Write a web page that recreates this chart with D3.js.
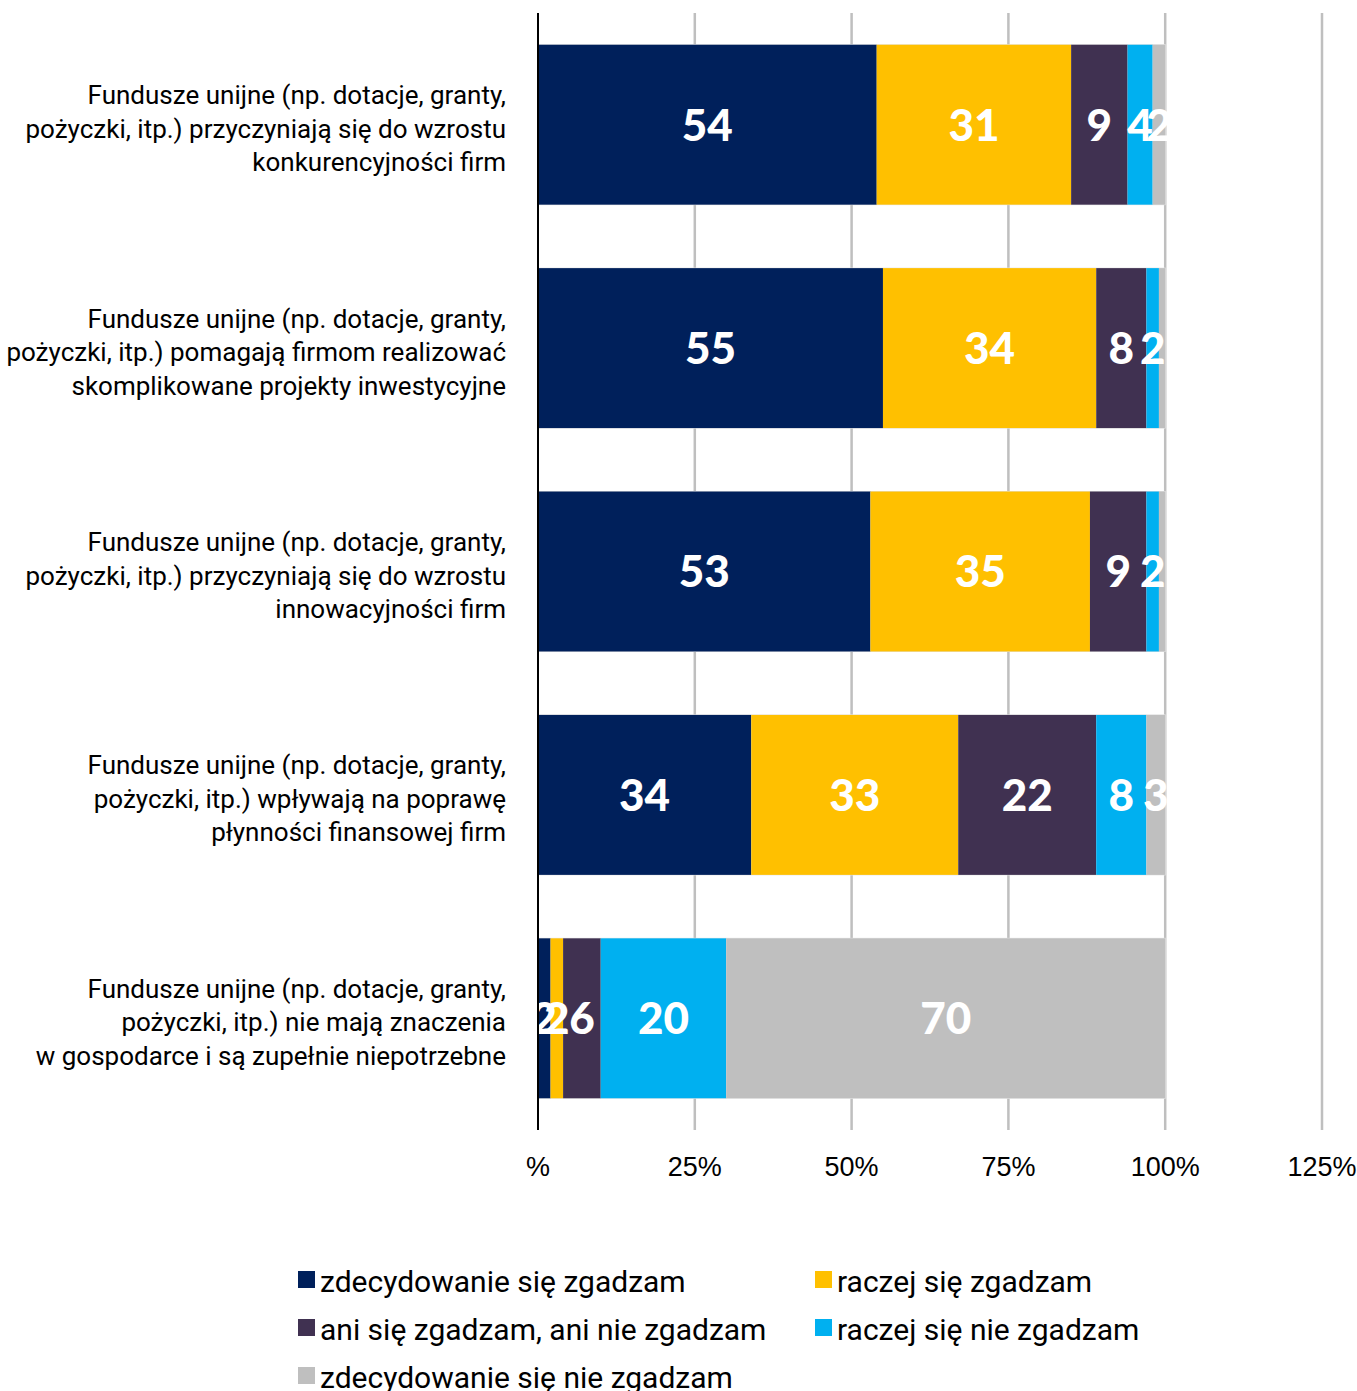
<!DOCTYPE html>
<html>
<head>
<meta charset="utf-8">
<script src="https://cdn.jsdelivr.net/npm/d3@7"></script>
<style>
  body { margin: 0; background: #fff; }
  text { font-family: Roboto, "Noto Sans", sans-serif; }
</style>
</head>
<body>
<script>
var width = 1357,
    height = 1391;

// categories (one line per array item)
var categories = [
  ["Fundusze unijne (np. dotacje, granty,", "pożyczki, itp.) przyczyniają się do wzrostu", "konkurencyjności firm"],
  ["Fundusze unijne (np. dotacje, granty,", "pożyczki, itp.) pomagają firmom realizować", "skomplikowane projekty inwestycyjne"],
  ["Fundusze unijne (np. dotacje, granty,", "pożyczki, itp.) przyczyniają się do wzrostu", "innowacyjności firm"],
  ["Fundusze unijne (np. dotacje, granty,", "pożyczki, itp.) wpływają na poprawę", "płynności finansowej firm"],
  ["Fundusze unijne (np. dotacje, granty,", "pożyczki, itp.) nie mają znaczenia", "w gospodarce i są zupełnie niepotrzebne"]
];

var seriesNames = [
  "zdecydowanie się zgadzam",
  "raczej się zgadzam",
  "ani się zgadzam, ani nie zgadzam",
  "raczej się nie zgadzam",
  "zdecydowanie się nie zgadzam"
];

var zdecydowanieTak = [54, 55, 53, 34, 2];
var raczejTak       = [31, 34, 35, 33, 2];
var aniAni          = [9, 8, 9, 22, 6];
var raczejNie       = [4, 2, 2, 8, 20];
var zdecydowanieNie = [2, 1, 1, 3, 70];

var ticks = [0, 25, 50, 75, 100, 125];
var tickLabels = ["%", "25%", "50%", "75%", "100%", "125%"];

var colors = ["#00205b", "#ffc000", "#403151", "#00b0f0", "#bfbfbf"];

var svg = d3.select("body").append("svg")
    .attr("width", width)
    .attr("height", height);

var x = d3.scaleLinear().domain([0, 125]).range([538, 1322]);
var y = d3.scaleBand().domain(d3.range(categories.length))
    .range([13, 1130]).paddingInner(0.284).paddingOuter(0.142);

// build rows for stacking
var rows = categories.map(function(c, i) {
  return { idx: i, s0: zdecydowanieTak[i], s1: raczejTak[i], s2: aniAni[i], s3: raczejNie[i], s4: zdecydowanieNie[i] };
});
var keys = ["s0", "s1", "s2", "s3", "s4"];
var stacked = d3.stack().keys(keys)(rows);

// grid lines
svg.append("g").selectAll("line")
  .data(ticks.slice(1))
  .enter().append("line")
    .attr("x1", function(d) { return x(d); })
    .attr("x2", function(d) { return x(d); })
    .attr("y1", 13)
    .attr("y2", 1130)
    .attr("stroke", "#bfbfbf")
    .attr("stroke-width", 2.5);

// faint background per bar
svg.append("g").selectAll("rect")
  .data(rows)
  .enter().append("rect")
    .attr("x", x(0))
    .attr("y", function(d) { return y(d.idx); })
    .attr("width", x(100) - x(0))
    .attr("height", y.bandwidth())
    .attr("fill", "#fff")
    .attr("stroke", "#e4e4e4")
    .attr("stroke-width", 1);

// bars
var layer = svg.append("g").selectAll("g")
  .data(stacked)
  .enter().append("g")
    .attr("fill", function(d, i) { return colors[i]; });

layer.selectAll("rect")
  .data(function(d) { return d; })
  .enter().append("rect")
    .attr("x", function(d) { return x(d[0]); })
    .attr("y", function(d) { return y(d.data.idx); })
    .attr("width", function(d) { return x(d[1]) - x(d[0]); })
    .attr("height", y.bandwidth());

// value labels
var labels = svg.append("g");
stacked.forEach(function(s) {
  s.forEach(function(d) {
    var v = d[1] - d[0];
    if (v < 2) return;
    labels.append("text")
      .attr("x", x((d[0] + d[1]) / 2))
      .attr("y", y(d.data.idx) + y.bandwidth() / 2)
      .attr("dy", "0.36em")
      .attr("text-anchor", "middle")
      .attr("fill", "#fff")
      .style("font-family", "Lato, Roboto, sans-serif")
      .style("font-weight", 900)
      .style("font-size", "44px")
      .text(v);
  });
});

// axis line
svg.append("line")
  .attr("x1", x(0)).attr("x2", x(0))
  .attr("y1", 13).attr("y2", 1130)
  .attr("stroke", "#000")
  .attr("stroke-width", 2);

// tick labels
svg.append("g").selectAll("text")
  .data(ticks)
  .enter().append("text")
    .attr("x", function(d) { return x(d); })
    .attr("y", 1176)
    .attr("text-anchor", "middle")
    .attr("fill", "#000")
    .style("font-family", "'Liberation Sans', Arial, sans-serif")
    .style("font-size", "27px")
    .text(function(d, i) { return tickLabels[i]; });

// category labels
var cat = svg.append("g").selectAll("text")
  .data(categories)
  .enter().append("text")
    .attr("text-anchor", "end")
    .attr("fill", "#000")
    .style("font-size", "26px")
    .attr("transform", function(d, i) {
      return "translate(506," + (y(i) + y.bandwidth() / 2) + ")";
    });

cat.selectAll("tspan")
  .data(function(d) { return d; })
  .enter().append("tspan")
    .attr("x", 0)
    .attr("y", function(d, i) { return (i - 1) * 33.5; })
    .attr("dy", "0.5em")
    .text(function(d) { return d; });

// legend
var legendPos = [[298, 1280], [815, 1280], [298, 1328], [815, 1328], [298, 1376]];
var legend = svg.append("g").selectAll("g")
  .data(seriesNames)
  .enter().append("g")
    .attr("transform", function(d, i) { return "translate(" + legendPos[i][0] + "," + legendPos[i][1] + ")"; });

legend.append("rect")
  .attr("x", 0)
  .attr("y", -9)
  .attr("width", 17)
  .attr("height", 17)
  .attr("fill", function(d, i) { return colors[i]; });

legend.append("text")
  .attr("x", 22)
  .attr("y", 0)
  .attr("dy", "0.4em")
  .attr("fill", "#000")
  .style("font-size", "30px")
  .text(function(d) { return d; });
</script>
</body>
</html>
